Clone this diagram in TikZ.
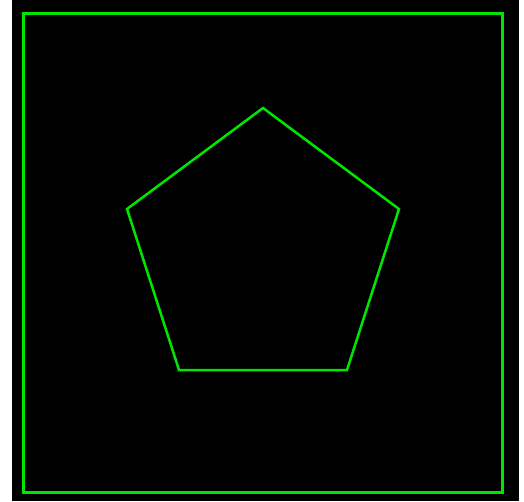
\documentclass[tikz,border=0pt]{standalone}
\definecolor{lime}{RGB}{0,230,0}
\begin{document}
\begin{tikzpicture}[x=1pt,y=-1pt,
  greenline/.style={draw=lime,line width=3pt,line join=miter}]
\fill[white] (0,0) rectangle (524,501);
\useasboundingbox (0,0) rectangle (524,501);
\fill[black] (12,0) rectangle (519,501);
\draw[greenline] (23.5,13.5) rectangle (502,492);
\coordinate (p1) at (263,108);
\coordinate (p2) at (399,209);
\coordinate (p3) at (347,370);
\coordinate (p4) at (179,370);
\coordinate (p5) at (127,209);
\draw[greenline,line width=2.5pt] (p1) -- (p2) -- (p3) -- (p4) -- (p5) -- cycle;
\end{tikzpicture}
\end{document}
